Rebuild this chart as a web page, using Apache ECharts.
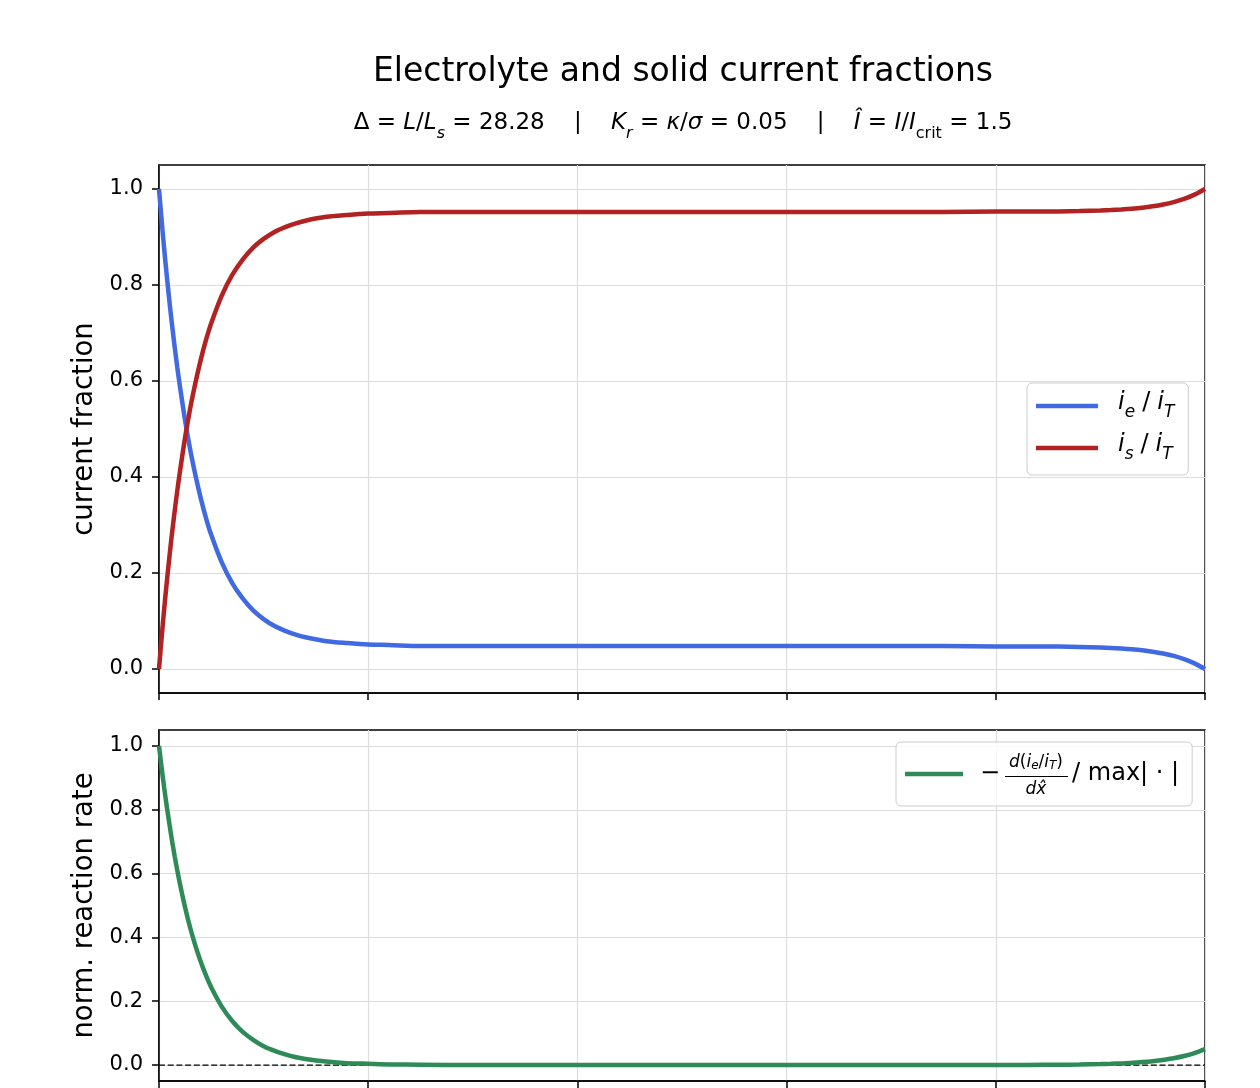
<!DOCTYPE html>
<html><head><meta charset="utf-8">
<script src="https://cdn.jsdelivr.net/npm/echarts@6/dist/echarts.min.js"></script>
<style>html,body{margin:0;padding:0;background:#fff}#c{width:1260px;height:1088px}</style>
</head><body><div id="c"></div>
<script>
// x-hat positions (dimensionless)
const xs = [0, 0.0025, 0.005, 0.0075, 0.01, 0.0125, 0.015, 0.0175, 0.02, 0.025, 0.03, 0.035, 0.04, 0.045, 0.05,
  0.06, 0.07, 0.08, 0.09, 0.1, 0.11, 0.12, 0.13, 0.14, 0.16, 0.18, 0.2, 0.22, 0.25, 0.3, 0.4, 0.5, 0.6, 0.7,
  0.75, 0.8, 0.83, 0.86, 0.88, 0.9, 0.91, 0.92, 0.93, 0.94, 0.95, 0.96, 0.97, 0.98, 0.99, 1.0];
// electrolyte current fraction i_e/i_T
const ieFrac = [1.000, 0.935, 0.874, 0.818, 0.765, 0.716, 0.671, 0.628, 0.589, 0.517, 0.455, 0.402, 0.355, 0.314, 0.279,
  0.222, 0.179, 0.147, 0.122, 0.104, 0.090, 0.080, 0.072, 0.066, 0.058, 0.054, 0.051, 0.050, 0.048, 0.048, 0.048, 0.048, 0.048, 0.048,
  0.048, 0.047, 0.047, 0.0467, 0.046, 0.0448, 0.0439, 0.0426, 0.041, 0.0389, 0.036, 0.0322, 0.0272, 0.0206, 0.0117, 0.000];
// solid current fraction i_s/i_T
const isFrac = [0.000, 0.065, 0.126, 0.182, 0.235, 0.284, 0.329, 0.372, 0.411, 0.483, 0.545, 0.598, 0.645, 0.686, 0.721,
  0.778, 0.821, 0.853, 0.878, 0.896, 0.910, 0.920, 0.928, 0.934, 0.942, 0.946, 0.949, 0.950, 0.952, 0.952, 0.952, 0.952, 0.952, 0.952,
  0.952, 0.953, 0.953, 0.9533, 0.954, 0.9552, 0.9561, 0.9574, 0.959, 0.9611, 0.964, 0.9678, 0.9728, 0.9794, 0.9883, 1.000];
// normalised reaction rate
const rate = [1.000, 0.932, 0.868, 0.809, 0.754, 0.702, 0.654, 0.610, 0.568, 0.493, 0.428, 0.372, 0.323, 0.280, 0.243,
  0.183, 0.138, 0.104, 0.079, 0.059, 0.045, 0.034, 0.025, 0.019, 0.011, 0.006, 0.004, 0.002, 0.001, 0.000, 0.000, 0.000, 0.000, 0.000,
  0.000, 0.000, 0.0004, 0.001, 0.0017, 0.003, 0.0039, 0.0052, 0.0069, 0.0092, 0.0122, 0.0161, 0.0214, 0.0284, 0.0377, 0.050];
const zeroLine = [[0, 0], [1, 0]];
const yTicks = [0, 0.2, 0.4, 0.6, 0.8, 1.0];

const FF = 'DejaVu Sans';
const pair = arr => xs.map((x, i) => [x, arr[i]]);

function xAxisCfg(gi) {
  return {
    type: 'value', gridIndex: gi, min: 0, max: 1, interval: 0.2,
    axisLine: {show: true, onZero: false, lineStyle: {color: '#000', width: 1.5}},
    axisTick: {show: true, inside: false, length: 7, lineStyle: {color: '#000', width: 1.5}},
    axisLabel: {show: false},
    splitLine: {show: true, lineStyle: {color: '#dddddd', width: 1.2}}
  };
}
function yAxisCfg(gi, name, gap) {
  return {
    type: 'value', gridIndex: gi, min: -0.05, max: 1.05, splitNumber: 5,
    name: name, nameLocation: 'middle', nameGap: gap,
    nameTextStyle: {fontFamily: FF, fontSize: 27.5, color: '#000'},
    axisLine: {show: true, onZero: false, lineStyle: {color: '#000', width: 1.5}},
    axisTick: {show: true, inside: false, length: 7, customValues: yTicks, lineStyle: {color: '#000', width: 1.5}},
    axisLabel: {show: true, customValues: yTicks, margin: 16, fontFamily: FF, fontSize: 21, color: '#000',
      formatter: v => (Math.abs(v - 1.05) < 1e-6 || Math.abs(v + 0.05) < 1e-6) ? '' : v.toFixed(1)},
    splitLine: {show: true, lineStyle: {color: '#dddddd', width: 1.2}}
  };
}

const legendRich = {
  it0: {fontFamily: FF, fontSize: 24, fontStyle: 'italic', color: '#000', lineHeight: 30, verticalAlign: 'top', padding: [0, 0, 0, 15]},
  it: {fontFamily: FF, fontSize: 24, fontStyle: 'italic', color: '#000', lineHeight: 30, verticalAlign: 'top'},
  sb: {fontFamily: FF, fontSize: 17, fontStyle: 'italic', color: '#000', lineHeight: 18, verticalAlign: 'bottom'},
  sl: {fontFamily: FF, fontSize: 24, color: '#000', lineHeight: 30, verticalAlign: 'top', padding: [0, 7, 0, 7]},
  m: {fontFamily: FF, fontSize: 24, color: '#000', padding: [0, 0, 0, 12]},
  sp: {fontFamily: FF, fontSize: 24, width: 72},
  t: {fontFamily: FF, fontSize: 24, color: '#000'}
};
const labelMap = {
  ie: '{it0|i}{sb|e}{sl|/}{it|i}{sb|T}',
  is: '{it0|i}{sb|s}{sl|/}{it|i}{sb|T}',
  rate: '{m|−}{sp| }{t|/ max| · |}'
};
const legendBox = {
  backgroundColor: 'rgba(255,255,255,0.8)', borderColor: '#cccccc', borderWidth: 1, borderRadius: 5,
  icon: 'rect', itemHeight: 4.5, formatter: n => labelMap[n], textStyle: {rich: legendRich}, selectedMode: false
};

const subRich = {
  r: {fontFamily: FF, fontSize: 23, color: '#000', lineHeight: 30, verticalAlign: 'top'},
  it: {fontFamily: FF, fontSize: 23, fontStyle: 'italic', color: '#000', lineHeight: 30, verticalAlign: 'top'},
  sub: {fontFamily: FF, fontSize: 16, fontStyle: 'italic', color: '#000', lineHeight: 19, verticalAlign: 'bottom'},
  subr: {fontFamily: FF, fontSize: 16, color: '#000', lineHeight: 19, verticalAlign: 'bottom'}
};
const subText = '{r|Δ = }{it|L}{r|/}{it|L}{sub|s}{r| = 28.28    |    }{it|K}{sub|r}{r| = }{it|κ}{r|/}{it|σ}{r| = 0.05    |    }{it|Î}{r| = }{it|I}{r|/}{it|I}{subr|crit}{r| = 1.5}';

const fracRich = {
  it: {fontFamily: FF, fontSize: 17, fontStyle: 'italic', color: '#000'},
  r: {fontFamily: FF, fontSize: 17, color: '#000'},
  sb: {fontFamily: FF, fontSize: 12, fontStyle: 'italic', color: '#000', padding: [6, 0, 0, 0]}
};

const lineSeries = (name, arr, color, xi) => ({
  name: name, type: 'line', xAxisIndex: xi, yAxisIndex: xi, data: pair(arr), showSymbol: false, symbol: 'none',
  smooth: 0.3,
  lineStyle: {color: color, width: 4.5}, itemStyle: {color: color}, z: 3
});

const chart = echarts.init(document.getElementById('c'), null, {renderer: 'canvas'});
chart.setOption({
  animation: false,
  backgroundColor: '#fff',
  grid: [
    {left: 159, top: 165, width: 1046, height: 528, show: true, borderColor: '#000', borderWidth: 1.5, containLabel: false},
    {left: 159, top: 730, width: 1046, height: 351, show: true, borderColor: '#000', borderWidth: 1.5, containLabel: false}
  ],
  xAxis: [xAxisCfg(0), xAxisCfg(1)],
  yAxis: [yAxisCfg(0, 'current fraction', 58), yAxisCfg(1, 'norm. reaction rate', 58)],
  legend: [
    Object.assign({}, legendBox, {data: ['ie', 'is'], orient: 'vertical', left: 1027, top: 383, itemWidth: 62, itemGap: 12, padding: [8, 14, 12, 9]}),
    Object.assign({}, legendBox, {data: ['rate'], orient: 'vertical', left: 896, top: 742, itemWidth: 58, padding: [20, 13, 20, 9]})
  ],
  series: [
    lineSeries('ie', ieFrac, '#4169E1', 0),
    lineSeries('is', isFrac, '#B22222', 0),
    {name: 'zero', type: 'line', xAxisIndex: 1, yAxisIndex: 1, data: zeroLine, showSymbol: false, symbol: 'none',
      lineStyle: {color: '#000', width: 1.2, type: [6, 2.7]}, z: 1, silent: true},
    lineSeries('rate', rate, '#2E8B57', 1)
  ],
  graphic: [
    {type: 'text', x: 683, y: 72, z: 10, style: {text: 'Electrolyte and solid current fractions', fill: '#000',
      font: '33px "DejaVu Sans"', textAlign: 'center', textVerticalAlign: 'middle'}},
    {type: 'text', x: 683, y: 127, z: 10, style: {text: subText, rich: subRich, fill: '#000',
      font: '23px "DejaVu Sans"', textAlign: 'center', textVerticalAlign: 'middle'}},
    {type: 'text', x: 1036, y: 763, z: 10, style: {text: '{it|d}{r|(}{it|i}{sb|e}{r|/}{it|i}{sb|T}{r|)}', rich: fracRich, fill: '#000',
      font: '17px "DejaVu Sans"', textAlign: 'center', textVerticalAlign: 'middle'}},
    {type: 'line', z: 10, shape: {x1: 1005, y1: 776.5, x2: 1068, y2: 776.5}, style: {stroke: '#000', lineWidth: 1.2}},
    {type: 'text', x: 1036, y: 790, z: 10, style: {text: '{it|dx̂}', rich: fracRich, fill: '#000',
      font: '17px "DejaVu Sans"', textAlign: 'center', textVerticalAlign: 'middle'}}
  ]
});
</script></body></html>
